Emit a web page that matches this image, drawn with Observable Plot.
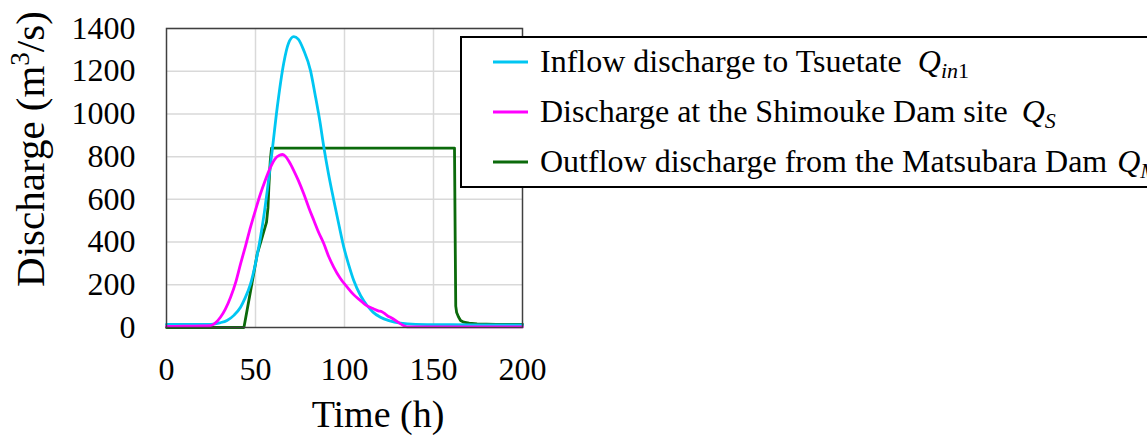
<!DOCTYPE html>
<html>
<head>
<meta charset="utf-8">
<script src="https://cdn.jsdelivr.net/npm/d3@7"></script>
<script src="https://cdn.jsdelivr.net/npm/@observablehq/plot@0.6"></script>
<style>
  html, body { margin: 0; padding: 0; background: #fff; }
  #chart { position: relative; width: 1147px; height: 435px; overflow: hidden; }
  #chart svg { position: absolute; left: 0; top: 0; }
</style>
</head>
<body>
<div id="chart"></div>
<script>
// ---- data ----
const xTicks = [0, 50, 100, 150, 200];
const yTicks = [0, 200, 400, 600, 800, 1000, 1200, 1400];

const inflowTime = [0, 10, 20, 25, 30, 34, 38, 41.6, 44, 47.2, 50, 52.8, 55, 56.6, 59.4, 62.2, 65.9, 68.5, 71.5, 74, 77, 80.9, 83.5, 86.1, 88.4, 91, 94, 97, 99.6, 102.5, 105.2, 109, 112.7, 116, 120.2, 125, 131.5, 140, 160, 180, 200];
const inflowQ    = [14, 14, 14, 15, 22, 33, 58, 95, 135, 204, 300, 423, 540, 640, 830, 1030, 1240, 1330, 1362, 1350, 1300, 1203, 1090, 969, 844, 720, 595, 475, 376, 290, 220, 150, 103, 72, 48, 32, 20, 15, 13, 12, 12];

const shimoukeTime = [0, 10, 20, 24.7, 27, 30.3, 33, 36, 39, 41.6, 44.5, 47.2, 50, 52.8, 55.5, 58.4, 61, 63.5, 65.3, 67, 69, 71.5, 74, 77.1, 80, 82.8, 85.5, 88.4, 91, 94, 97.5, 101.5, 105, 109, 112, 116.5, 119, 121, 122.5, 124, 127, 131.5, 135.2, 150, 170, 200];
const shimoukeQ    = [5, 6, 7, 9, 18, 48, 85, 142, 215, 298, 385, 470, 550, 626, 690, 750, 790, 806, 810, 800, 775, 735, 690, 626, 560, 501, 445, 392, 335, 282, 232, 189, 155, 126, 105, 87, 78, 74, 66, 56, 42, 17, 3, 3, 3, 3];

const matsubaraTime = [0, 43.5, 47, 51, 54, 56.2, 57, 57.5, 58.3, 59, 161.8, 162.2, 162.5, 163, 164, 165.2, 167, 170, 174.5, 185, 200];
const matsubaraQ    = [0, 0, 160, 345, 430, 493, 560, 657, 780, 840, 840, 400, 100, 70, 50, 33, 25, 20, 17, 15, 14];

const seriesNames = ["Inflow discharge to Tsuetate", "Discharge at the Shimouke Dam site", "Outflow discharge from the Matsubara Dam"];
const seriesColors = ["#00c6f2", "#ff00ff", "#0b6a0b"];

const toRows = (ts, qs) => ts.map((t, i) => ({t, q: qs[i]}));
const inflow = toRows(inflowTime, inflowQ);
const shimouke = toRows(shimoukeTime, shimoukeQ);
const matsubara = toRows(matsubaraTime, matsubaraQ);

const W = 1147, H = 435;
const serif = "'Liberation Serif', 'Times New Roman', 'DejaVu Serif', serif";

const chart = Plot.plot({
  width: W,
  height: H,
  marginLeft: 166,
  marginRight: 625,
  marginTop: 28,
  marginBottom: 108,
  style: {fontFamily: serif, fontSize: "32px", color: "#000", background: "#fff"},
  x: {domain: [0, 200]},
  y: {domain: [0, 1400]},
  marks: [
    Plot.gridX({ticks: [50, 100, 150], stroke: "#d9d9d9", strokeOpacity: 1, strokeWidth: 1.5}),
    Plot.gridY({ticks: yTicks.slice(1), stroke: "#d9d9d9", strokeOpacity: 1, strokeWidth: 1.5}),
    Plot.axisX({ticks: xTicks, tickSize: 0, tickPadding: 30, label: null, tickFormat: d => String(d), fontSize: 32}),
    Plot.axisY({ticks: yTicks, tickSize: 0, tickPadding: 31, label: null, tickFormat: d => String(d), fontSize: 32}),
    Plot.line(matsubara, {x: "t", y: "q", stroke: seriesColors[2], strokeWidth: 2.8}),
    Plot.line(inflow, {x: "t", y: "q", stroke: seriesColors[0], strokeWidth: 2.8, curve: "monotone-x"}),
    Plot.line(shimouke, {x: "t", y: "q", stroke: seriesColors[1], strokeWidth: 2.8, curve: "monotone-x"}),
    Plot.frame({stroke: "#404040", strokeWidth: 1.5})
  ]
});

const host = document.getElementById("chart");
host.append(chart);

// ---- overlay: axis titles and legend ----
const ns = "http://www.w3.org/2000/svg";
const ov = d3.select(host).append("svg")
  .attr("xmlns", ns)
  .attr("width", W).attr("height", H)
  .attr("viewBox", `0 0 ${W} ${H}`)
  .style("font-family", serif);

// x title
ov.append("text")
  .attr("x", 378).attr("y", 427)
  .attr("text-anchor", "middle")
  .attr("font-size", 38)
  .text("Time (h)");

// y title
const yt = ov.append("text")
  .attr("transform", "translate(44,149) rotate(-90)")
  .attr("text-anchor", "middle")
  .attr("font-size", 41);
yt.append("tspan").text("Discharge (m");
yt.append("tspan").attr("font-size", 27).attr("dy", -15).text("3");
yt.append("tspan").attr("dy", 15).text("/s)");

// legend
const lg = ov.append("g");
lg.append("rect")
  .attr("x", 461).attr("y", 37).attr("width", 800).attr("height", 150)
  .attr("fill", "#fff").attr("stroke", "#000").attr("stroke-width", 2);

const rowY = [62, 112, 162];
const subs = [
  [{t: "in", it: true}, {t: "1", it: false}],
  [{t: "S", it: true}],
  [{t: "M", it: true}]
];
const qGap = [16, 14, 10];
seriesNames.forEach((name, i) => {
  lg.append("line")
    .attr("x1", 493).attr("x2", 528)
    .attr("y1", rowY[i]).attr("y2", rowY[i])
    .attr("stroke", seriesColors[i]).attr("stroke-width", 2.8);
  const tx = lg.append("text")
    .attr("x", 540).attr("y", rowY[i] + 10)
    .attr("font-size", 32);
  tx.append("tspan").text(name);
  tx.append("tspan").attr("dx", qGap[i]).attr("font-style", "italic").text("Q");
  subs[i].forEach((s, j) => {
    const sp = tx.append("tspan").attr("font-size", 22).text(s.t);
    if (j === 0) sp.attr("dy", 6);
    if (s.it) sp.attr("font-style", "italic");
  });
});
</script>
</body>
</html>
